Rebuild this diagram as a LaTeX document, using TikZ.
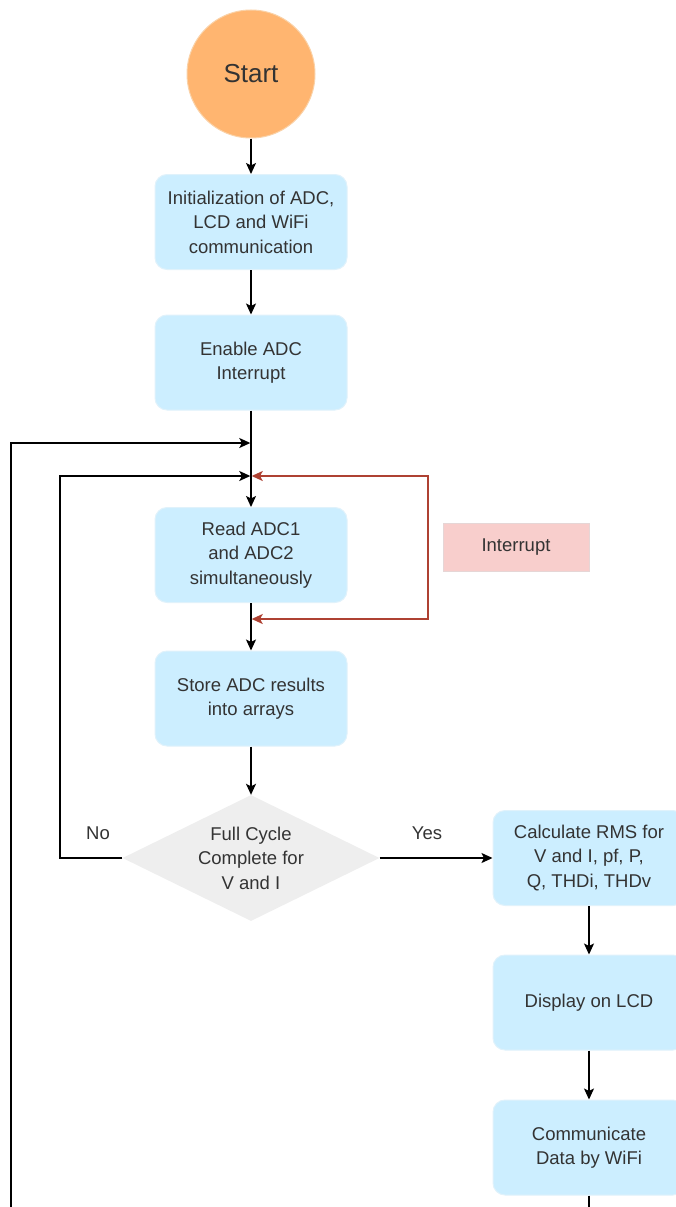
\documentclass[tikz,border=0pt]{standalone}
\usepackage{fontspec}
\setmainfont{Liberation Sans}
\usetikzlibrary{shapes.geometric,arrows.meta}
\definecolor{boxfill}{HTML}{CCEEFF}
\definecolor{boxline}{HTML}{E0F2FB}
\definecolor{startfill}{HTML}{FFB570}
\definecolor{startline}{HTML}{FAD2A8}
\definecolor{diafill}{HTML}{EEEEEE}
\definecolor{intfill}{HTML}{F8CECC}
\definecolor{intline}{HTML}{E6D6D6}
\definecolor{redline}{HTML}{AE4132}
\definecolor{txt}{HTML}{333333}
\tikzset{
  every node/.style={font=\fontsize{18.5}{24.5}\selectfont, text=txt},
  procbox/.style={draw=boxline, line width=1pt, fill=boxfill, rounded corners=12pt,
    minimum width=192pt, minimum height=95pt, align=center, inner sep=2pt},
  startnode/.style={circle, draw=startline, line width=1pt, fill=startfill,
    minimum size=128pt, font=\fontsize{26}{30}\selectfont},
  decision/.style={diamond, fill=diafill, draw=none, minimum width=257pt,
    minimum height=126pt, align=center, inner sep=0pt, aspect=2},
  intbox/.style={draw=intline, line width=1pt, fill=intfill, minimum width=146pt,
    minimum height=48pt},
  conn/.style={line width=1.4pt, -{Stealth[length=11pt,width=10pt,inset=2.5pt]}},
  plain/.style={line width=1.4pt},
  redconn/.style={line width=1.4pt, draw=redline,
    {Stealth[length=11pt,width=10pt,inset=2.5pt]}-{Stealth[length=11pt,width=10pt,inset=2.5pt]}},
  lbl/.style={font=\fontsize{18.5}{22}\selectfont}
}
\begin{document}
\begin{tikzpicture}[x=1pt,y=-1pt]
\useasboundingbox (0,0) rectangle (676,1207);
\clip (0,0) rectangle (676,1207);
\node[startnode] (start) at (251,74) {Start};
\node[procbox] (init) at (251,222) {Initialization of ADC,\\LCD and WiFi\\communication};
\node[procbox] (enable) at (251,362.5) {Enable ADC\\Interrupt};
\node[procbox] (read) at (251,555) {Read ADC1\\and ADC2\\simultaneously};
\node[procbox] (store) at (251,698.5) {Store ADC results\\into arrays};
\node[decision] (dec) at (251,858) {Full Cycle\\Complete for\\V and I};
\node[procbox] (calc) at (589,858) {Calculate RMS for\\V and I, pf, P,\\Q, THDi, THDv};
\node[procbox] (disp) at (589,1002.5) {Display on LCD};
\node[procbox] (comm) at (589,1147.5) {Communicate\\Data by WiFi};
\node[intbox] (int) at (516,547) {Interrupt};
\node[lbl] (no) at (98,833) {No};
\node[lbl] (yes) at (427,833) {Yes};

\coordinate (j1) at (251,443);
\coordinate (j2) at (251,476);
\coordinate (j3) at (251,619);
\coordinate (outerbot) at (11,1207);
\coordinate (outertop) at (11,443);
\coordinate (innertop) at (60,476);
\coordinate (r1) at (428,476);
\coordinate (r2) at (428,619);
\coordinate (commend) at (589,1207);

\draw[conn] (start) -- (init);
\draw[conn] (init) -- (enable);
\draw[conn] (enable) -- (read);
\draw[conn] (read) -- (store);
\draw[conn] (store) -- (dec);
\draw[conn] (dec) -- (calc);
\draw[conn] (calc) -- (disp);
\draw[conn] (disp) -- (comm);
\draw[plain] (comm) -- (commend);
\draw[conn] (outerbot) -- (outertop) -- ([xshift=-0.7pt]j1);
\draw[conn] (dec.west) -| (innertop) -- ([xshift=-0.7pt]j2);
\draw[redconn] ([xshift=0.7pt]j3) -- (r2) -- (r1) -- ([xshift=0.7pt]j2);
\end{tikzpicture}
\end{document}
